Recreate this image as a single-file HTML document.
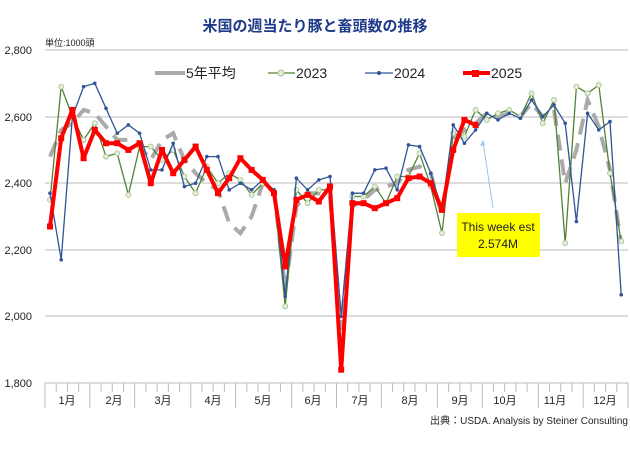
<!DOCTYPE html><html><head><meta charset="utf-8"><style>body{margin:0;background:#fff}svg{font-family:"Liberation Sans","Noto Sans CJK JP",sans-serif}</style></head><body>
<svg id="s" width="630" height="445" viewBox="0 0 630 445">
<text x="315" y="31" text-anchor="middle" font-size="15" font-weight="bold" fill="#1f3a8a">米国の週当たり豚と畜頭数の推移</text>
<text x="45" y="46" font-size="9" fill="#222">単位:1000頭</text>
<g font-size="11" fill="#222" text-anchor="end">
<text x="32" y="54">2,800</text><text x="32" y="121">2,600</text><text x="32" y="187">2,400</text><text x="32" y="254">2,200</text><text x="32" y="320">2,000</text><text x="32" y="387">1,800</text></g>
<g stroke="#bbb" stroke-width="1"><line x1="45" x2="628" y1="50" y2="50"/><line x1="45" x2="628" y1="117" y2="117"/><line x1="45" x2="628" y1="183" y2="183"/><line x1="45" x2="628" y1="250" y2="250"/><line x1="45" x2="628" y1="316" y2="316"/><line x1="45" x2="628" y1="383" y2="383"/></g>
<g id="ticks" stroke="#bbb"></g>
<g font-size="11" fill="#222" text-anchor="middle">
<text x="67" y="404">1月</text><text x="114" y="404">2月</text><text x="163" y="404">3月</text><text x="213" y="404">4月</text><text x="263" y="404">5月</text><text x="313" y="404">6月</text><text x="360" y="404">7月</text><text x="410" y="404">8月</text><text x="460" y="404">9月</text><text x="505" y="404">10月</text><text x="555" y="404">11月</text><text x="605" y="404">12月</text></g>
<text x="628" y="424" text-anchor="end" font-size="10" fill="#222">出典：USDA.  Analysis by Steiner Consulting</text>
<g id="lines"></g>
<line x1="493" y1="208" x2="483" y2="142" stroke="#9cc3e6" stroke-width="1"/><path d="M483 140 l-3 6 l5 -1z" fill="#9cc3e6"/>
<rect x="457" y="213" width="83" height="44" fill="#ffff00"/>
<text x="498" y="231" text-anchor="middle" font-size="12" fill="#222">This week est</text>
<text x="498" y="248" text-anchor="middle" font-size="12" fill="#222">2.574M</text>
<g font-size="14" fill="#222">
<line x1="155" y1="73" x2="185" y2="73" stroke="#aaa" stroke-width="4"/><text x="186" y="78">5年平均</text>
<line x1="268" y1="73" x2="295" y2="73" stroke="#548235" stroke-width="1.2"/><circle cx="281" cy="73" r="3" fill="#e2efda" stroke="#a9c08f"/><text x="296" y="78">2023</text>
<line x1="365" y1="73" x2="393" y2="73" stroke="#2f5597" stroke-width="1.2"/><circle cx="379" cy="73" r="2" fill="#2f5597"/><text x="394" y="78">2024</text>
<line x1="463" y1="73" x2="490" y2="73" stroke="#f00" stroke-width="4"/><rect x="472" y="70" width="7" height="7" fill="#f00"/><text x="491" y="78">2025</text></g>
</svg>
<script>
var y=v=>383-(v-1800)*333/1000, X=i=>50+i*11.2;
var avg=[2480,2560,2580,2620,2610,2570,2530,2530,2510,2470,2530,2550,2470,2430,2400,2380,2280,2250,2300,2400,2380,2080,2330,2370,2370,2360,1960,2330,2350,2380,2390,2400,2440,2450,2430,2300,2530,2560,2580,2610,2600,2610,2600,2640,2600,2620,2400,2500,2650,2570,2440,2220];
var g=[2350,2690,2600,2530,2580,2480,2490,2365,2510,2510,2470,2500,2420,2370,2450,2400,2430,2410,2365,2400,2370,2030,2380,2340,2380,2380,1880,2360,2360,2390,2340,2420,2420,2490,2390,2250,2550,2540,2620,2590,2610,2620,2600,2670,2580,2650,2220,2690,2670,2695,2430,2225];
var b=[2370,2170,2600,2690,2700,2625,2550,2575,2550,2440,2440,2520,2390,2400,2480,2480,2380,2400,2380,2410,2380,2060,2415,2380,2410,2420,2000,2370,2370,2440,2445,2380,2515,2510,2430,2320,2575,2520,2560,2610,2590,2610,2595,2650,2600,2635,2580,2285,2610,2560,2585,2065];
var r=[2270,2535,2620,2475,2560,2520,2520,2500,2520,2400,2500,2430,2470,2510,2440,2370,2415,2475,2440,2410,2370,2150,2350,2365,2345,2390,1840,2340,2340,2325,2340,2355,2415,2420,2400,2320,2500,2590,2575];
var pts=a=>a.map((v,i)=>X(i).toFixed(1)+','+y(v).toFixed(1)).join(' ');
var h='<polyline points="'+pts(avg)+'" fill="none" stroke="#aaa" stroke-width="4" stroke-dasharray="16,9"/>';
h+='<polyline points="'+pts(g)+'" fill="none" stroke="#548235" stroke-width="1.3"/>';
g.forEach((v,i)=>h+='<circle cx="'+X(i)+'" cy="'+y(v)+'" r="2.5" fill="#e2efda" stroke="#a9c08f" stroke-width=".8"/>');
h+='<polyline points="'+pts(b)+'" fill="none" stroke="#2f5597" stroke-width="1.3"/>';
b.forEach((v,i)=>h+='<circle cx="'+X(i)+'" cy="'+y(v)+'" r="1.8" fill="#2f5597"/>');
h+='<polyline points="'+pts(r)+'" fill="none" stroke="#f00" stroke-width="4" stroke-linejoin="round"/>';
r.forEach((v,i)=>h+='<rect x="'+(X(i)-3)+'" y="'+(y(v)-3)+'" width="6" height="6" fill="#f00"/>');
document.getElementById('lines').innerHTML=h;
var t='',mb=[0,4,8,13,17,22,26,30,35,39,44,48,52];
for(var i=0;i<=52;i++){var x=45+i*583/52;t+='<line x1="'+x+'" x2="'+x+'" y1="383" y2="'+(mb.indexOf(i)>=0?408:392)+'"/>';}
document.getElementById('ticks').innerHTML=t;
</script></body></html>
